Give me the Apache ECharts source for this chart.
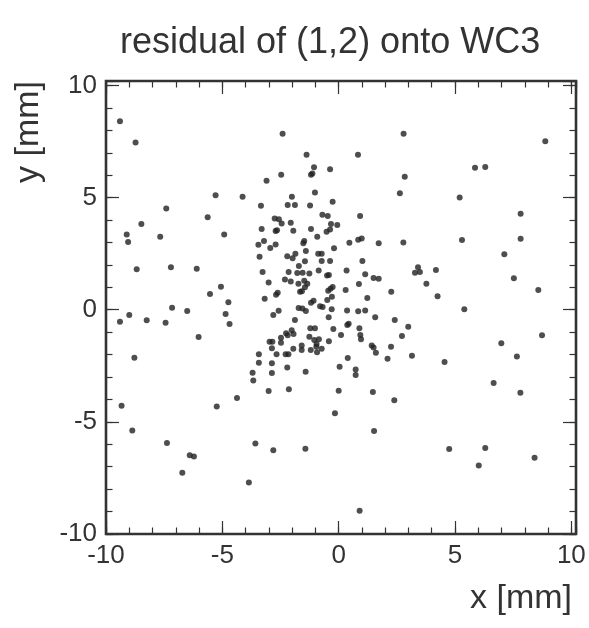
<!DOCTYPE html>
<html><head><meta charset="utf-8">
<script src="https://cdn.jsdelivr.net/npm/echarts@6/dist/echarts.min.js"></script>
<style>html,body{margin:0;padding:0;background:#fff}#c{width:589px;height:628px}</style>
</head><body><div id="c"></div>
<script>
const chartTitle = 'residual of (1,2) onto WC3';
const xName = 'x [mm]';
const yName = 'y [mm]';
const axisMin = -10, axisMax = 10.2;
const tickLabels = [-10, -5, 0, 5, 10];

const xValues = [
  -9.40,-8.73,-5.29,-4.13,-7.41,-5.63,-8.48,
  -2.41,2.79,-1.38,0.83,-1.06,-0.37,-1.13,-1.19,-2.47,2.84,-3.10,-1.02,2.63,-2.01,-3.34,-2.19,-1.88,-1.23,-0.26,-0.70,-0.47,0.92,-2.75,-2.57,-2.45,-2.06,-0.33,-0.06,-3.31,-2.71,-2.65,-1.95,-1.19,-0.52,-0.37,
  8.88,5.86,6.30,5.20,7.82,
  -9.11,-7.67,-4.92,-9.05,-8.68,-7.21,-6.10,-5.06,-5.53,-4.74,-7.16,-6.51,-4.86,-9.00,-9.40,-8.25,-7.44,-4.69,-6.02,-8.78,-3.70,-3.67,
  -0.92,-3.45,-3.21,-2.94,-2.71,-1.48,-1.52,-0.20,0.46,0.84,
  0.99,1.72,2.78,-3.40,-2.21,-1.98,-1.86,-1.41,-0.88,-0.73,
  -1.45,-0.73,-0.37,1.02,-1.71,-3.27,-2.15,-1.78,-1.55,-1.26,
  -0.86,-0.50,-0.42,0.34,1.14,1.50,1.72,3.28,-3.01,-2.31,
  -2.06,-1.73,-1.48,-1.35,-1.45,-1.66,-1.58,-0.45,-0.35,-0.26,
  0.30,0.87,2.26,-3.18,-2.69,-2.62,-0.29,-0.49,-1.19,-1.08,
  -0.80,-0.69,1.23,-1.72,-1.56,-1.41,-0.30,-2.58,-2.81,0.36,
  0.84,1.14,-0.43,1.57,-1.88,2.41,0.43,0.37,2.99,0.89,
  -1.22,-1.02,-0.23,-2.02,-2.26,-2.19,-1.94,-2.48,-2.97,-2.85,
  -2.48,-1.26,-1.05,-0.85,-0.95,-0.96,-0.73,-0.93,-0.42,0.10,
  0.93,0.96,2.72,-2.87,-1.95,-1.59,-1.59,-1.20,1.42,1.50,
  2.25,-3.43,-2.67,-2.28,-2.16,1.60,3.15,-3.43,-2.87,0.39,
  2.10,-2.21,0.04,0.73,-2.87,-1.42,0.73,
  5.30,7.82,7.12,3.41,3.49,4.18,3.77,7.53,8.58,4.25,5.40,8.74,6.99,7.66,4.55,
  -9.33,-5.24,-4.37,-8.87,-7.38,-3.58,-6.40,-6.22,-6.72,-3.86,
  -3.01,-2.14,0.00,1.47,2.39,-0.16,1.52,-2.81,-1.43,0.90,
  6.66,7.81,4.75,6.30,6.02,8.42
];
const yValues = [
  8.41,7.46,5.11,5.04,4.52,4.12,3.82,
  7.85,7.85,6.91,6.91,6.35,6.27,6.08,6.02,6.02,5.93,5.75,5.23,5.20,5.04,4.64,4.67,4.67,4.65,4.82,4.24,4.18,4.18,4.07,4.03,3.85,3.88,3.82,3.78,3.60,3.51,3.54,3.52,3.60,3.48,3.58,
  7.51,6.33,6.36,5.01,4.28,
  3.35,3.26,3.36,3.02,1.81,1.90,1.83,1.03,0.70,0.33,0.09,-0.06,-0.19,-0.24,-0.53,-0.47,-0.58,-0.64,-1.22,-2.14,-2.81,-3.15,
  3.26,2.90,3.06,2.75,2.91,3.06,2.96,2.74,2.99,3.12,
  3.18,2.97,3.00,2.36,2.39,2.30,2.50,2.62,2.50,2.50,
  2.16,2.17,2.17,2.17,1.95,1.68,1.68,1.64,1.65,1.62,
  1.75,1.53,1.55,1.75,1.58,1.41,1.38,1.65,1.21,1.35,
  1.26,1.16,1.29,1.16,1.00,0.80,0.83,0.85,0.94,1.01,
  0.88,1.15,0.80,0.49,0.67,0.76,0.58,0.43,0.31,0.40,
  0.16,0.12,0.52,0.08,0.05,-0.06,0.02,-0.04,-0.24,-0.03,
  -0.07,-0.03,-0.34,-0.33,-0.46,-0.46,-0.62,-0.68,-0.76,-0.83,
  -0.82,-0.82,-0.86,-0.91,-1.05,-1.14,-1.08,-1.25,-1.43,-1.43,
  -1.47,-1.20,-1.35,-1.32,-1.53,-1.65,-1.74,-1.89,-1.40,-1.13,
  -1.13,-1.32,-1.17,-1.72,-1.74,-1.59,-1.80,-1.80,-1.60,-1.68,
  -1.65,-1.98,-1.98,-1.98,-1.98,-1.92,-2.05,-2.36,-2.39,-2.15,
  -2.18,-2.58,-2.54,-2.66,-2.82,-2.76,-2.91,
  3.11,3.17,2.48,1.89,1.68,1.77,1.16,1.40,0.88,0.60,0.02,-1.14,-1.49,-2.08,-2.33,
  -4.28,-4.32,-3.94,-5.38,-5.94,-5.97,-6.49,-6.54,-7.27,-7.70,
  -3.62,-3.54,-3.61,-3.67,-4.04,-4.61,-5.41,-6.27,-6.20,-8.96,
  -3.27,-3.70,-6.21,-6.17,-6.94,-6.60
];

const points = xValues.map((x, i) => [x, yValues[i]]);
const ink = '#333';
const fontFam = '"Liberation Sans", Arial, Helvetica, sans-serif';
const fmt = v => tickLabels.some(t => Math.abs(t - v) < 1e-6) ? String(Math.round(v)) : '';

function tickAxis(position, interval, len, withLabels) {
  return {
    type: 'value', gridIndex: 0, position, min: axisMin, max: axisMax, interval,
    axisLine: { show: false, onZero: false },
    axisTick: { show: true, inside: true, length: len, lineStyle: { color: ink, width: 1.2 } },
    axisLabel: withLabels ? { show: true, formatter: fmt, fontSize: 26, color: ink, fontFamily: fontFam, margin: 9 } : { show: false },
    splitLine: { show: false }
  };
}
function nameAxis(position, offset, extra) {
  return Object.assign({
    type: 'value', gridIndex: 0, position, offset, min: axisMin, max: axisMax,
    axisLine: { show: false, onZero: false }, axisTick: { show: false },
    axisLabel: { show: false }, splitLine: { show: false }
  }, extra);
}

const chart = echarts.init(document.getElementById('c'), null, { renderer: 'canvas' });
chart.setOption({
  animation: false,
  backgroundColor: '#fff',
  title: {
    text: chartTitle, left: 120, top: 25, padding: 0,
    textStyle: { fontSize: 36, fontWeight: 'normal', color: ink, fontFamily: fontFam }
  },
  grid: { left: 106, top: 81, width: 470, height: 453, show: true, borderColor: ink, borderWidth: 2.6, backgroundColor: 'transparent' },
  xAxis: [
    tickAxis('bottom', 1, 6.5, false),
    tickAxis('bottom', 5, 13, true),
    tickAxis('top', 1, 6.5, false),
    tickAxis('top', 5, 13, false),
    nameAxis('bottom', 48, { name: xName, nameLocation: 'end', nameGap: -4,
      nameTextStyle: { align: 'right', verticalAlign: 'top', fontSize: 34, color: ink, fontFamily: fontFam } })
  ],
  yAxis: [
    tickAxis('left', 1, 6.5, false),
    tickAxis('left', 5, 13, true),
    tickAxis('right', 1, 6.5, false),
    tickAxis('right', 5, 13, false),
    nameAxis('left', 60, { name: yName, nameLocation: 'end', nameGap: 0, nameRotate: 90,
      nameTextStyle: { align: 'right', verticalAlign: 'bottom', fontSize: 34, color: ink, fontFamily: fontFam } })
  ],
  series: [{
    type: 'scatter', xAxisIndex: 0, yAxisIndex: 0, data: points,
    symbol: 'circle', symbolSize: 6, itemStyle: { color: '#222' }, silent: true
  }]
});
</script></body></html>
